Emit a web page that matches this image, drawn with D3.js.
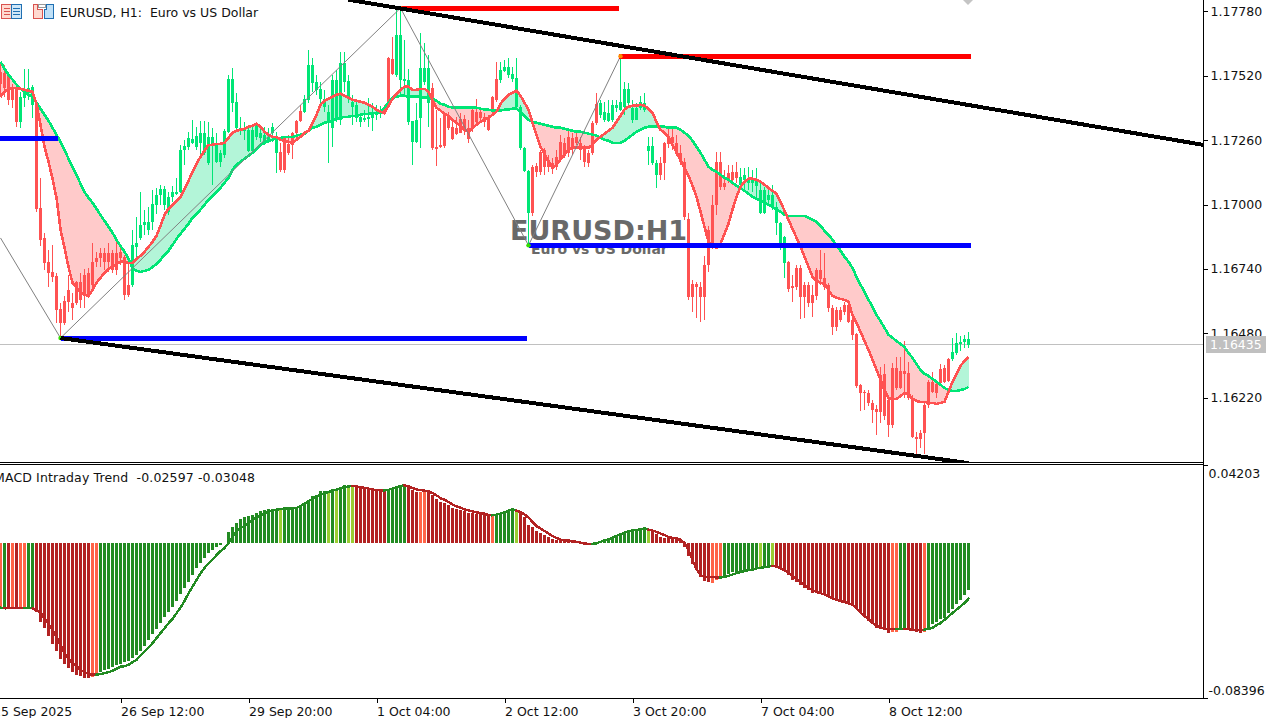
<!DOCTYPE html>
<html>
<head>
<meta charset="utf-8">
<script src="https://cdn.jsdelivr.net/npm/d3@7"></script>
<style>
  html, body { margin: 0; padding: 0; background: #fff; overflow: hidden; }
  svg { display: block; }
  text { font-family: "DejaVu Sans", sans-serif; font-size: 12.5px; fill: #111; }
  .axis text { fill: #111; }
</style>
</head>
<body>
<svg id="chart" width="1279" height="718"></svg>
<script>
// all prices are points above 1.10000, so 7780 reads 1.17780

// candle bodies and wicks, one entry per H1 bar
const bodyHigh = [
7536,7532,7528,7471,7471,7435,7451,7471,7475,7411,
6987,6865,6768,6728,6712,6579,6611,6655,6603,6688,
6688,6716,6724,6768,6785,6805,6805,6805,6805,6805,
6809,6789,6676,6837,6845,6918,6930,6930,7003,7039,
7063,7063,7031,7051,7051,7221,7237,7269,7265,7277,
7290,7290,7273,7273,7241,7209,7298,7508,7508,7415,
7310,7302,7302,7302,7318,7290,7281,7273,7314,7277,
7213,7269,7245,7290,7338,7379,7427,7564,7564,7496,
7467,7427,7375,7504,7504,7572,7572,7500,7415,7403,
7354,7350,7354,7370,7375,7375,7383,7593,7589,7686,
7686,7508,7504,7338,7342,7552,7552,7552,7471,7233,
7241,7362,7354,7314,7310,7346,7346,7310,7383,7375,
7375,7354,7354,7435,7508,7544,7556,7556,7528,7512,
7395,7229,7136,7152,7156,7213,7221,7181,7168,7193,
7253,7249,7273,7269,7273,7249,7229,7209,7330,7407,
7411,7375,7370,7403,7403,7415,7467,7467,7391,7391,
7415,7411,7237,7237,7168,7168,7249,7273,7273,7249,
7209,7173,6942,6680,6680,6668,6756,6898,6999,7173,
7173,7088,7128,7132,7132,7112,7120,7108,7108,7100,
7059,7059,7039,7039,6991,6926,6870,6768,6672,6744,
6744,6676,6676,6635,6736,6736,6704,6676,6583,6575,
6575,6595,6595,6534,6478,6272,6243,6239,6199,6175,
6312,6316,6211,6340,6340,6328,6328,6320,6219,6061,
6077,6191,6284,6284,6276,6336,6340,6377,6405,6441,
6445,6457,6457];
const bodyLow = [
7488,7471,7423,7423,7334,7334,7431,7451,7403,6983,
6857,6764,6724,6708,6575,6522,6522,6607,6583,6603,
6615,6635,6635,6676,6768,6785,6768,6768,6736,6736,
6785,6635,6635,6676,6829,6865,6918,6898,6930,6999,
7039,6999,6971,7031,7043,7051,7221,7233,7249,7233,
7249,7209,7168,7241,7173,7173,7201,7294,7411,7310,
7302,7298,7217,7217,7273,7269,7249,7261,7290,7209,
7140,7140,7209,7241,7290,7338,7375,7423,7492,7463,
7427,7395,7334,7310,7350,7342,7496,7435,7395,7350,
7334,7342,7346,7350,7362,7366,7370,7411,7528,7524,
7504,7500,7334,7253,7253,7350,7496,7411,7229,7225,
7233,7237,7310,7265,7286,7290,7310,7265,7310,7334,
7350,7334,7302,7383,7423,7504,7540,7524,7508,7395,
7229,7136,6966,6966,7132,7132,7152,7152,7148,7152,
7181,7201,7209,7229,7249,7221,7173,7168,7209,7330,
7362,7342,7338,7342,7391,7383,7395,7411,7342,7342,
7391,7383,7217,7168,7120,7120,7168,7245,7249,7205,
7173,6950,6627,6627,6668,6627,6627,6756,6829,6999,
7072,7072,7100,7100,7108,7080,7100,7088,7088,7076,
6966,6966,7019,6987,6926,6845,6764,6659,6664,6668,
6627,6627,6603,6603,6631,6700,6668,6583,6506,6506,
6534,6567,6526,6474,6268,6239,6239,6199,6171,6163,
6163,6146,6110,6110,6259,6259,6316,6219,6061,6053,
6053,6077,6191,6243,6239,6280,6284,6288,6377,6401,
6437,6445,6433];
const wickHigh = [
7577,7564,7536,7488,7488,7455,7548,7548,7483,7423,
7108,6886,6817,6837,6724,6603,6631,6716,6643,6692,
6724,6740,6744,6845,6809,6825,6825,6845,6817,6849,
6837,6797,6764,6898,6950,7051,6979,6991,7059,7067,
7080,7076,7051,7076,7108,7241,7261,7294,7342,7314,
7338,7338,7334,7310,7290,7221,7306,7524,7552,7451,
7354,7334,7310,7314,7330,7322,7314,7310,7330,7294,
7249,7273,7281,7294,7342,7403,7443,7625,7593,7524,
7496,7463,7403,7524,7544,7617,7617,7524,7443,7423,
7370,7383,7431,7411,7403,7399,7403,7597,7678,7787,
7787,7665,7548,7338,7411,7694,7653,7605,7492,7383,
7350,7370,7375,7350,7354,7370,7362,7342,7391,7427,
7395,7370,7362,7439,7577,7577,7585,7593,7556,7593,
7403,7233,7140,7160,7168,7221,7229,7201,7189,7221,
7281,7269,7302,7290,7294,7273,7241,7221,7338,7451,
7423,7415,7423,7423,7423,7593,7496,7492,7423,7411,
7439,7451,7273,7273,7181,7193,7253,7314,7314,7281,
7241,7189,6966,6696,6688,6688,6793,6914,7039,7213,
7213,7140,7160,7160,7173,7148,7148,7152,7140,7148,
7100,7072,7072,7080,7011,6930,6874,6773,6716,6756,
6756,6688,6688,6676,6744,6817,6805,6684,6595,6587,
6587,6607,6599,6542,6482,6276,6251,6251,6211,6191,
6344,6356,6231,6361,6385,6385,6449,6365,6231,6082,
6090,6199,6292,6324,6288,6356,6352,6381,6461,6482,
6469,6473,6486];
const wickLow = [
7443,7435,7403,7391,7314,7310,7395,7423,7350,6971,
6833,6736,6668,6688,6522,6462,6514,6567,6534,6595,
6583,6583,6623,6668,6748,6748,6736,6728,6724,6716,
6756,6615,6627,6668,6785,6857,6878,6878,6898,6962,
6999,6979,6958,7011,7039,7047,7160,7221,7245,7221,
7201,7201,7160,7080,7168,7152,7189,7290,7375,7306,
7281,7261,7213,7213,7261,7253,7241,7249,7253,7128,
7132,7128,7201,7185,7261,7334,7370,7411,7455,7443,
7403,7375,7168,7233,7334,7322,7455,7411,7322,7334,
7314,7334,7314,7298,7342,7350,7362,7403,7524,7516,
7435,7435,7322,7160,7249,7229,7484,7314,7221,7156,
7229,7229,7302,7261,7281,7290,7281,7249,7294,7322,
7334,7314,7298,7362,7415,7492,7536,7512,7496,7383,
7221,7132,6837,6954,7112,7120,7120,7132,7124,7140,
7173,7189,7193,7201,7241,7181,7152,7152,7201,7322,
7350,7334,7334,7334,7375,7379,7362,7403,7330,7342,
7383,7375,7160,7160,7067,7100,7100,7229,7221,7197,
7160,6938,6615,6567,6542,6526,6534,6728,6821,6958,
7059,7059,7088,7080,7088,7059,7059,7059,7051,7031,
6962,6962,7003,6979,6878,6817,6704,6647,6607,6655,
6538,6542,6587,6546,6615,6676,6655,6567,6474,6490,
6526,6554,6522,6453,6259,6167,6171,6187,6118,6070,
6118,6130,6062,6098,6251,6255,6219,6211,6057,5989,
6017,5993,6179,6239,6219,6272,6280,6284,6369,6393,
6409,6421,6421];

// the two moving averages that the filled band runs between
const slowMa = [
7577,7548,7524,7504,7484,7467,7455,7443,7435,7411,
7387,7362,7338,7310,7282,7253,7221,7185,7152,7120,
7084,7051,7027,7007,6983,6958,6934,6910,6886,6857,
6833,6809,6781,6744,6732,6728,6732,6736,6748,6760,
6777,6797,6813,6837,6861,6882,6902,6922,6946,6962,
6979,6999,7019,7035,7051,7067,7088,7108,7140,7160,
7173,7185,7197,7209,7225,7241,7249,7257,7261,7269,
7269,7273,7273,7273,7278,7282,7286,7298,7310,7314,
7322,7330,7334,7338,7346,7350,7354,7354,7358,7358,
7362,7366,7366,7370,7370,7375,7391,7411,7431,7435,
7439,7439,7435,7435,7435,7435,7431,7431,7427,7419,
7407,7403,7395,7391,7391,7391,7391,7391,7391,7391,
7387,7383,7383,7379,7379,7379,7383,7383,7387,7387,
7375,7358,7342,7334,7330,7326,7322,7318,7314,7310,
7310,7306,7302,7298,7294,7294,7290,7286,7282,7278,
7269,7261,7257,7249,7249,7249,7257,7269,7282,7294,
7302,7310,7314,7314,7314,7314,7314,7310,7310,7310,
7302,7290,7278,7257,7233,7209,7181,7152,7140,7132,
7120,7108,7100,7088,7076,7067,7055,7043,7031,7023,
7015,7007,6999,6991,6979,6971,6958,6954,6954,6954,
6954,6954,6946,6938,6930,6914,6894,6878,6857,6837,
6813,6789,6769,6744,6708,6676,6647,6615,6587,6554,
6530,6502,6474,6462,6449,6437,6425,6401,6381,6356,
6332,6316,6308,6296,6284,6272,6259,6251,6247,6247,
6251,6255,6263];
const fastMa = [
7435,7455,7467,7471,7471,7467,7463,7459,7455,7407,
7322,7233,7173,7104,7027,6898,6825,6748,6684,6664,
6643,6635,6631,6655,6684,6704,6724,6740,6748,6760,
6769,6769,6764,6764,6781,6793,6809,6829,6849,6874,
6914,6958,6983,6999,7015,7031,7063,7096,7132,7164,
7193,7217,7241,7241,7245,7245,7249,7269,7290,7298,
7302,7306,7314,7318,7326,7314,7294,7282,7273,7273,
7261,7257,7253,7249,7261,7273,7290,7298,7330,7362,
7403,7419,7427,7435,7443,7447,7439,7431,7423,7419,
7415,7411,7403,7395,7383,7375,7370,7399,7427,7447,
7463,7476,7476,7463,7463,7467,7467,7455,7423,7391,
7379,7366,7358,7342,7330,7318,7302,7294,7310,7322,
7334,7342,7350,7362,7375,7407,7427,7443,7451,7459,
7439,7411,7383,7330,7282,7233,7205,7173,7148,7160,
7181,7201,7221,7229,7229,7229,7229,7229,7241,7261,
7273,7286,7298,7310,7334,7358,7383,7395,7399,7399,
7403,7399,7387,7370,7334,7302,7290,7273,7241,7213,
7181,7148,7116,7076,7031,6971,6910,6849,6833,6825,
6841,6882,6922,6979,7031,7072,7092,7104,7104,7100,
7092,7080,7067,7055,7043,7011,6975,6938,6902,6866,
6829,6789,6748,6708,6692,6684,6680,6655,6631,6623,
6619,6615,6607,6554,6522,6486,6449,6413,6373,6332,
6292,6251,6219,6215,6215,6227,6239,6235,6215,6207,
6203,6203,6199,6199,6195,6199,6203,6243,6284,6316,
6348,6369,6385];

// MACD histogram and its line
const macdHist = [
-.0353,-.0353,-.0356,-.0356,-.0360,-.0360,-.0360,-.0356,-.0356,-.0374,
-.0428,-.0464,-.0509,-.0549,-.0585,-.0630,-.0657,-.0680,-.0702,-.0716,
-.0725,-.0734,-.0736,-.0731,-.0720,-.0702,-.0693,-.0684,-.0675,-.0664,
-.0657,-.0648,-.0641,-.0626,-.0608,-.0587,-.0558,-.0527,-.0497,-.0470,
-.0437,-.0401,-.0378,-.0347,-.0317,-.0281,-.0245,-.0212,-.0176,-.0140,
-.0110,-.0086,-.0059,-.0041,-.0023,-.0014,-.0005,.0058,.0085,.0108,
.0130,.0137,.0144,.0151,.0160,.0169,.0178,.0184,.0184,.0184,
.0175,.0184,.0184,.0187,.0193,.0205,.0216,.0229,.0252,.0259,
.0277,.0281,.0277,.0292,.0283,.0301,.0313,.0313,.0306,.0306,
.0301,.0295,.0292,.0288,.0283,.0283,.0274,.0286,.0288,.0306,
.0313,.0313,.0301,.0286,.0274,.0274,.0274,.0274,.0256,.0234,
.0220,.0214,.0205,.0187,.0184,.0178,.0171,.0162,.0160,.0157,
.0153,.0151,.0144,.0142,.0153,.0160,.0169,.0178,.0184,.0178,
.0162,.0139,.0097,.0085,.0061,.0052,.0040,.0031,.0018,.0013,
.0007,.0011,.0014,.0007,.0004,.0001,-.0011,-.0014,-.0014,-.0005,
.0007,.0022,.0025,.0031,.0043,.0049,.0054,.0058,.0061,.0067,
.0072,.0083,.0067,.0063,.0049,.0031,.0025,.0025,.0022,.0018,
.0014,-.0023,-.0072,-.0117,-.0149,-.0185,-.0207,-.0216,-.0221,-.0203,
-.0198,-.0185,-.0173,-.0162,-.0158,-.0155,-.0149,-.0144,-.0140,-.0137,
-.0137,-.0131,-.0128,-.0126,-.0131,-.0140,-.0155,-.0176,-.0203,-.0212,
-.0230,-.0245,-.0257,-.0272,-.0275,-.0275,-.0284,-.0290,-.0302,-.0317,
-.0320,-.0320,-.0324,-.0335,-.0360,-.0383,-.0401,-.0423,-.0441,-.0461,
-.0461,-.0473,-.0488,-.0482,-.0482,-.0468,-.0468,-.0468,-.0470,-.0482,
-.0488,-.0482,-.0461,-.0443,-.0428,-.0414,-.0407,-.0383,-.0360,-.0335,
-.0311,-.0284,-.02597];
const macdLine = [
-.0353,-.0356,-.0356,-.0356,-.0356,-.0356,-.0356,-.0356,-.0356,-.0367,
-.0380,-.0410,-.0443,-.0473,-.0513,-.0554,-.0599,-.0630,-.0653,-.0671,
-.0689,-.0702,-.0713,-.0716,-.0716,-.0713,-.0707,-.0702,-.0695,-.0684,
-.0673,-.0670,-.0662,-.0648,-.0635,-.0612,-.0590,-.0569,-.0545,-.0518,
-.0491,-.0464,-.0437,-.0414,-.0383,-.0353,-.0317,-.0275,-.0239,-.0203,
-.0167,-.0137,-.0113,-.0092,-.0068,-.0047,-.0029,-.0005,.0031,.0063,
.0079,.0090,.0103,.0121,.0137,.0148,.0157,.0166,.0175,.0178,
.0182,.0184,.0184,.0185,.0187,.0198,.0211,.0223,.0238,.0250,
.0261,.0266,.0274,.0281,.0286,.0295,.0301,.0304,.0306,.0304,
.0301,.0297,.0292,.0288,.0284,.0283,.0283,.0286,.0292,.0301,
.0306,.0310,.0304,.0295,.0288,.0284,.0281,.0277,.0268,.0256,
.0241,.0232,.0220,.0207,.0196,.0189,.0180,.0175,.0169,.0164,
.0160,.0157,.0149,.0148,.0151,.0157,.0164,.0173,.0180,.0173,
.0166,.0153,.0135,.0112,.0090,.0076,.0063,.0049,.0036,.0025,
.0016,.0013,.0011,.0007,.0004,.0000,-.0004,-.0007,-.0007,-.0004,
.0004,.0011,.0018,.0027,.0036,.0045,.0054,.0061,.0065,.0068,
.0072,.0076,.0070,.0065,.0058,.0049,.0040,.0031,.0025,.0022,
.0014,-.0002,-.0041,-.0095,-.0144,-.0176,-.0185,-.0187,-.0187,-.0189,
-.0189,-.0187,-.0180,-.0173,-.0166,-.0160,-.0155,-.0149,-.0146,-.0140,
-.0137,-.0133,-.0130,-.0126,-.0130,-.0140,-.0151,-.0162,-.0182,-.0198,
-.0216,-.0230,-.0245,-.0257,-.0268,-.0274,-.0281,-.0292,-.0302,-.0311,
-.0317,-.0322,-.0329,-.0338,-.0356,-.0378,-.0398,-.0416,-.0434,-.0450,
-.0461,-.0466,-.0468,-.0468,-.0468,-.0468,-.0468,-.0470,-.0472,-.0473,
-.0473,-.0472,-.0468,-.0461,-.0448,-.0436,-.0419,-.0401,-.0382,-.0364,
-.0346,-.0328,-.03048];

// histogram colour runs: G rising above, Y weak rise, F falling, T weak fall
const histRuns = [['T',1],['G',1],['F',1],['T',1],['F',1],['T',2],['G',2],['F',14],['T',2],
  ['G',45],['Y',1],['G',11],['Y',1],['G',1],['Y',1],['G',2],['Y',2],['F',8],['G',5],['F',3],['T',2],
  ['F',16],['T',1],['G',5],['Y',1],['F',18],['T',1],['G',13],['Y',1],['F',15],['T',3],['G',9],['Y',1],
  ['G',2],['Y',1],['F',29],['T',2],['G',2],['F',4],['T',1],['G',11]];
const histColors = { G: '#228b22', Y: '#9acd32', F: '#b22222', T: '#ff6347' };

// drawn objects: zigzag pivots, horizontal levels, channel lines
const zigzagBars = [0, 15, 100, 132, 155];
const zigzagPrices = [6865, 6461, 7793, 6835, 7599];
const lowPivots = [[15, 6461], [132, 6835]];
const highPivots = [[100, 7793], [155, 7599]];
const blueLevels = [[-1, 14.4, 7267], [15, 131.7, 6459], [132, 242.6, 6835]];
const redLevels = [[100, 154.6, 7793], [154.6, 242.6, 7599]];
const channelUpper = [[87, 7827], [300.6, 7241]];
const channelLower = [[15, 6461], [242, 5956]];

const lastPrice = 6435;
const priceTicks = [7780, 7520, 7260, 7000, 6740, 6480, 6220];
const macdTicks = [0.04203, -0.08396];
const timeBars = [-2, 30, 62, 94, 126, 158, 190, 222];
const timeLabels = ['25 Sep 2025', '26 Sep 12:00', '29 Sep 20:00', '1 Oct 04:00', '2 Oct 12:00', '3 Oct 20:00', '7 Oct 04:00', '8 Oct 12:00'];

const RED = '#ff5252', GREEN = '#00e676', RED_FILL = '#ffcaca', GREEN_FILL = '#b3f5d8';

const toPrice = p => 1.1 + p / 100000;
const svg = d3.select('#chart');

const xScale = d3.scaleLinear().domain([0, 242]).range([0.5, 968.5]);
const yScale = d3.scaleLinear().domain([toPrice(7780), toPrice(6220)]).range([11.3, 397.7]);
const macdScale = d3.scaleLinear().domain([0.04203, -0.08396]).range([465, 697.5]);
const bars = d3.range(bodyHigh.length);

// clip areas for the two panes
const defs = svg.append('defs');
defs.append('clipPath').attr('id', 'mainClip').append('rect').attr('width', 1203).attr('height', 462);
defs.append('clipPath').attr('id', 'subClip').append('rect').attr('y', 465).attr('width', 1203).attr('height', 233);

const main = svg.append('g').attr('clip-path', 'url(#mainClip)');
const sub = svg.append('g').attr('clip-path', 'url(#subClip)');

// watermark sits under everything else
main.append('text').attr('x', 510).attr('y', 240)
    .style('font-family', '"DejaVu Sans"').style('font-weight', 'bold').style('font-size', '27px').style('fill', '#696969')
    .text('EURUSD:H1');
main.append('text').attr('x', 531).attr('y', 254)
    .style('font-family', '"DejaVu Sans"').style('font-weight', 'bold').style('font-size', '14px').style('fill', '#696969')
    .text('Euro vs US Dollar');

// current price line
main.append('line').attr('x1', 0).attr('x2', 1203)
    .attr('y1', Math.round(yScale(toPrice(lastPrice))) + 0.5).attr('y2', Math.round(yScale(toPrice(lastPrice))) + 0.5)
    .attr('stroke', '#c0c0c0');

// band between the averages, one piece per bar so the colour can flip
let band = d3.area()
    .x(d => xScale(d))
    .y0(d => yScale(toPrice(slowMa[d])))
    .y1(d => yScale(toPrice(fastMa[d])));
main.append('g').attr('shape-rendering', 'crispEdges').selectAll('path')
    .data(bars.slice(1))
    .join('path')
    .attr('d', d => band([d - 1, d]))
    .attr('fill', d => fastMa[d] >= slowMa[d] ? GREEN_FILL : RED_FILL);

// candles take the colour of the trend, not of their own direction
const trendColor = d => fastMa[d] >= slowMa[d] ? GREEN : RED;
let candles = main.append('g').attr('shape-rendering', 'crispEdges');
candles.selectAll('rect.wick')
    .data(bars)
    .join('rect')
    .attr('class', 'wick')
    .attr('x', d => xScale(d) - 0.5)
    .attr('width', 1)
    .attr('y', d => yScale(toPrice(wickHigh[d])))
    .attr('height', d => yScale(toPrice(wickLow[d])) - yScale(toPrice(wickHigh[d])))
    .attr('fill', trendColor);
candles.selectAll('rect.body')
    .data(bars)
    .join('rect')
    .attr('class', 'body')
    .attr('x', d => xScale(d) - 1.5)
    .attr('width', 3)
    .attr('y', d => yScale(toPrice(bodyHigh[d])))
    .attr('height', d => Math.max(1, yScale(toPrice(bodyLow[d])) - yScale(toPrice(bodyHigh[d]))))
    .attr('fill', trendColor);

// moving average lines
const maLine = values => d3.line().x(d => xScale(d)).y(d => yScale(toPrice(values[d])))(bars);
main.append('path').attr('d', maLine(slowMa)).attr('fill', 'none').attr('stroke', GREEN).attr('stroke-width', 2.6).attr('shape-rendering', 'crispEdges');
main.append('path').attr('d', maLine(fastMa)).attr('fill', 'none').attr('stroke', RED).attr('stroke-width', 2.6).attr('shape-rendering', 'crispEdges');

// zigzag
const zigzag = d3.line().x(d => xScale(d)).y((d, i) => yScale(toPrice(zigzagPrices[i])));
main.append('path').attr('d', zigzag(zigzagBars)).attr('fill', 'none').attr('stroke', '#808080').attr('stroke-width', 1);

// thick levels
const drawLevels = (levels, color) => main.append('g').attr('shape-rendering', 'crispEdges')
    .selectAll('line').data(levels).join('line')
    .attr('x1', d => xScale(d[0])).attr('x2', d => xScale(d[1]))
    .attr('y1', d => yScale(toPrice(d[2]))).attr('y2', d => yScale(toPrice(d[2])))
    .attr('stroke', color).attr('stroke-width', 5);
drawLevels(blueLevels, '#0000ff');
drawLevels(redLevels, '#ff0000');

// pivot dots
main.append('g').selectAll('circle').data(lowPivots).join('circle')
    .attr('cx', d => xScale(d[0])).attr('cy', d => yScale(toPrice(d[1]))).attr('r', 2.2).attr('fill', '#33dd00');
main.append('g').selectAll('circle').data(highPivots).join('circle')
    .attr('cx', d => xScale(d[0])).attr('cy', d => yScale(toPrice(d[1]))).attr('r', 2.2).attr('fill', '#ff8c00');

// channel
const channel = d3.line().x(d => xScale(d[0])).y(d => yScale(toPrice(d[1])));
[channelUpper, channelLower].forEach(c => {
    main.append('path').attr('d', channel(c)).attr('fill', 'none').attr('stroke', '#000').attr('stroke-width', 4).attr('shape-rendering', 'crispEdges');
});

// small grey marker cut by the top edge
main.append('path').attr('d', 'M963,0L968,5L973,0Z').attr('fill', '#c4c4c4');

// header icons and name
const icons = svg.append('g').attr('shape-rendering', 'crispEdges');
icons.append('rect').attr('x', 1.5).attr('y', 4.5).attr('width', 10).attr('height', 14).attr('fill', '#ffd9d0').attr('stroke', '#d9534f');
icons.append('rect').attr('x', 11.5).attr('y', 4.5).attr('width', 10).attr('height', 14).attr('fill', '#cfe6f7').attr('stroke', '#1f6fb2');
[8, 11, 14].forEach(y => {
    icons.append('rect').attr('x', 4).attr('y', y).attr('width', 6).attr('height', 1).attr('fill', '#d9534f');
    icons.append('rect').attr('x', 13).attr('y', y).attr('width', 7).attr('height', 1).attr('fill', '#1f6fb2');
});
icons.append('path').attr('d', 'M33.5,4.5H37.5V9.5H42.5V18.5H33.5Z').attr('fill', '#ffd9d0').attr('stroke', '#d9534f');
icons.append('path').attr('d', 'M46.5,4.5H53.5V18.5H44.5V9.5H46.5Z').attr('fill', '#bfe0f7').attr('stroke', '#1f6fb2');
icons.append('rect').attr('x', 38.5).attr('y', 4.5).attr('width', 7).attr('height', 3).attr('fill', '#fff').attr('stroke', '#999');
svg.append('text').attr('x', 60).attr('y', 16.5).text('EURUSD, H1:  Euro vs US Dollar').attr('xml:space', 'preserve');

// MACD pane
sub.append('g').attr('shape-rendering', 'crispEdges')
    .selectAll('rect')
    .data(bars)
    .join('rect')
    .attr('x', d => xScale(d) - 1.5)
    .attr('width', 3)
    .attr('y', d => Math.min(macdScale(macdHist[d]), macdScale(0)))
    .attr('height', d => Math.abs(macdScale(macdHist[d]) - macdScale(0)))
    .attr('fill', d => histColors[histStateAt(d)]);

function histStateAt(i) {
    let seen = 0;
    for (const run of histRuns) {
        seen += run[1];
        if (i < seen) return run[0];
    }
    return 'G';
}

// line changes colour with the rising or falling state
const macdPath = d3.line().x(d => xScale(d)).y(d => macdScale(macdLine[d]));
sub.append('g').attr('shape-rendering', 'crispEdges').selectAll('path')
    .data(bars.slice(1))
    .join('path')
    .attr('d', d => macdPath([d - 1, d]))
    .attr('fill', 'none')
    .attr('stroke-width', 2.4)
    .attr('stroke-linecap', 'square')
    .attr('stroke', d => 'GY'.includes(histStateAt(d)) ? histColors.G : histColors.F);

svg.append('text').attr('x', -6).attr('y', 482).attr('xml:space', 'preserve').style('letter-spacing', '0.13px')
    .text('MACD Intraday Trend  -0.02597 -0.03048');

// frame lines
const frame = svg.append('g').attr('shape-rendering', 'crispEdges').attr('stroke', '#000');
frame.append('line').attr('x1', 0).attr('x2', 1203).attr('y1', 462.5).attr('y2', 462.5);
frame.append('line').attr('x1', 0).attr('x2', 1203).attr('y1', 464.5).attr('y2', 464.5);
frame.append('line').attr('x1', 0).attr('x2', 1204).attr('y1', 698.5).attr('y2', 698.5);
frame.append('line').attr('x1', 1203.5).attr('x2', 1203.5).attr('y1', 0).attr('y2', 699);

// plain hyphen on negative tick values, as the platform prints them
const tickFormat5 = d => d.toFixed(5);

// axes
let priceAxis = d3.axisRight(yScale)
    .tickValues(priceTicks.map(toPrice))
    .tickFormat(tickFormat5)
    .tickSize(4).tickPadding(3);
let priceG = svg.append('g').attr('class', 'axis').attr('transform', 'translate(1203.5,0)').call(priceAxis);
priceG.select('.domain').remove();

// the last price box covers part of the tick label below it
svg.append('rect').attr('x', 1206).attr('y', 336).attr('width', 60).attr('height', 17).attr('fill', '#c0c0c0');
svg.append('text').attr('x', 1210).attr('y', 349).style('fill', '#fff').text(tickFormat5(toPrice(lastPrice)));

let macdAxis = d3.axisRight(macdScale)
    .tickValues(macdTicks)
    .tickFormat(tickFormat5)
    .tickSize(4).tickPadding(2);
let macdG = svg.append('g').attr('class', 'axis').attr('transform', 'translate(1203.5,0)').call(macdAxis);
macdG.select('.domain').remove();
macdG.selectAll('.tick text').attr('y', 0).attr('dy', (d, i) => i == 0 ? '12.5' : '-3').attr('dx', -1);

let timeAxis = d3.axisBottom(xScale)
    .tickValues(timeBars)
    .tickFormat((d, i) => timeLabels[i])
    .tickSize(4).tickPadding(5);
let timeG = svg.append('g').attr('class', 'axis').attr('transform', 'translate(0,698.5)').call(timeAxis);
timeG.select('.domain').remove();
timeG.selectAll('.tick text').attr('text-anchor', 'start').attr('x', 0);

d3.selectAll('.axis text').style('font-family', '"DejaVu Sans", sans-serif').style('font-size', '12.5px');
d3.selectAll('.axis line').attr('shape-rendering', 'crispEdges');
</script>
</body>
</html>
